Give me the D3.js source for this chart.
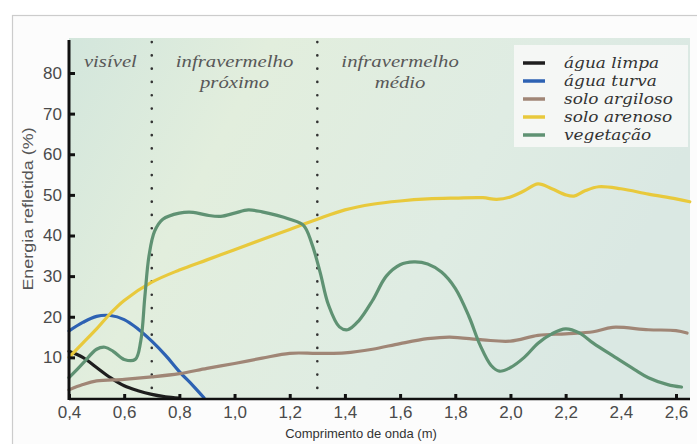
<!DOCTYPE html>
<html><head><meta charset="utf-8">
<script src="https://cdn.jsdelivr.net/npm/d3@7"></script>
<style>html,body{margin:0;padding:0;background:#fff;}svg{display:block;}
.serif{font-family:"Liberation Serif",serif;font-style:italic;}
.serif2{font-family:"DejaVu Serif",serif;font-style:italic;}
.sans{font-family:"Liberation Sans",Arial,Helvetica,sans-serif;}
</style>
</head><body>
<svg id="chart" width="697" height="444"></svg>
<script>
// ---- data ----
const seriesNames = ["água limpa","água turva","solo argiloso","solo arenoso","vegetação"];
const seriesColors = ["#1e1e1e","#2d62b3","#a08676","#e8c93c","#5f9273"];
const aguaLimpa = [[0.4,11.5],[0.45,10],[0.5,7.5],[0.55,5],[0.6,3],[0.65,1.8],[0.7,0.9],[0.75,0.3],[0.8,0]];
const aguaTurva = [[0.4,16.5],[0.45,18.6],[0.5,20.1],[0.55,20.3],[0.6,19.3],[0.65,17],[0.7,14],[0.75,10.5],[0.8,6.5],[0.85,3],[0.89,0]];
const soloArgiloso = [[0.4,2],[0.45,3.3],[0.5,4.2],[0.6,4.6],[0.7,5.2],[0.8,6],[0.9,7.3],[1.0,8.5],[1.1,9.8],[1.2,11],[1.3,11],[1.4,11.1],[1.5,12],[1.6,13.4],[1.7,14.6],[1.78,15],[1.9,14.3],[2.0,14],[2.1,15.4],[2.2,15.8],[2.3,16.3],[2.37,17.4],[2.5,16.8],[2.6,16.6],[2.64,16]];
const soloArenoso = [[0.4,10],[0.45,13.5],[0.5,17],[0.55,20.8],[0.6,24],[0.7,28.5],[0.8,31.5],[0.9,34],[1.0,36.5],[1.1,39],[1.2,41.5],[1.3,44],[1.4,46.3],[1.5,47.7],[1.6,48.5],[1.7,49],[1.8,49.2],[1.9,49.3],[1.95,48.9],[2.0,49.5],[2.05,51],[2.1,52.7],[2.15,51.5],[2.2,50],[2.23,49.7],[2.27,51],[2.32,52],[2.4,51.5],[2.5,50.2],[2.6,49],[2.65,48.3]];
const vegetacao = [[0.4,5],[0.45,8.5],[0.5,12],[0.53,12.5],[0.56,11.5],[0.6,9.5],[0.64,9.5],[0.66,14],[0.675,25],[0.69,35],[0.71,41],[0.74,44],[0.8,45.5],[0.85,45.7],[0.9,45],[0.95,44.7],[1.0,45.5],[1.05,46.3],[1.1,45.8],[1.2,44],[1.25,42.5],[1.28,38],[1.31,31],[1.34,23],[1.38,17.5],[1.41,16.8],[1.45,19],[1.5,24],[1.55,30],[1.6,32.8],[1.65,33.5],[1.7,33],[1.75,31],[1.8,27],[1.85,20],[1.89,13],[1.93,8],[1.96,6.6],[2.0,7.5],[2.05,10],[2.1,13.5],[2.15,15.8],[2.2,17],[2.25,16],[2.3,13.5],[2.38,10],[2.45,7],[2.5,5],[2.57,3.3],[2.62,2.7]];
const xTickValues = [0.4,0.6,0.8,1.0,1.2,1.4,1.6,1.8,2.0,2.2,2.4,2.6];
const xTickLabels = ["0,4","0,6","0,8","1,0","1,2","1,4","1,6","1,8","2,0","2,2","2,4","2,6"];
const yTickValues = [10,20,30,40,50,60,70,80];
const regionBounds = [0.7,1.3];
const regionLabels = [{x:0.55,lines:["visível"]},{x:1.0,lines:["infravermelho","próximo"]},{x:1.6,lines:["infravermelho","médio"]}];
const xTitle = "Comprimento de onda (m)";
const yTitle = "Energia refletida (%)";

const allSeries = [aguaLimpa,aguaTurva,soloArgiloso,soloArenoso,vegetacao];

// ---- layout ----
const svg = d3.select("#chart");
const pL = 69, pR = 690, pT = 38, pB = 398;
const x = d3.scaleLinear().domain([0.4,2.6]).range([pL,676]);
const y = d3.scaleLinear().domain([0,80]).range([pB,73]);

// frame
svg.append("rect").attr("x",12.5).attr("y",15.5).attr("width",700).attr("height",440)
  .attr("fill","#fcfcfc").attr("stroke","#cccccc").attr("stroke-width",1.2);

// plot background gradient
const defs = svg.append("defs");
const g1 = defs.append("linearGradient").attr("id","bg").attr("x1","0").attr("y1","0").attr("x2","1").attr("y2","0.3");
g1.append("stop").attr("offset","0").attr("stop-color","#d3e6dc");
g1.append("stop").attr("offset","0.3").attr("stop-color","#e2eedd");
g1.append("stop").attr("offset","0.7").attr("stop-color","#dfece3");
g1.append("stop").attr("offset","1").attr("stop-color","#dae8e3");
svg.append("rect").attr("x",pL).attr("y",pT).attr("width",pR-pL).attr("height",pB-pT+2)
  .attr("fill","url(#bg)");

// region dotted lines
svg.selectAll(".div").data(regionBounds).join("line")
  .attr("x1",d=>x(d)).attr("x2",d=>x(d)).attr("y1",pT+4).attr("y2",pB-4)
  .attr("stroke","#333").attr("stroke-width",2.6).attr("stroke-linecap","round")
  .attr("stroke-dasharray","0.1,13.2");

// region labels
const rl = svg.selectAll(".rl").data(regionLabels).join("g")
  .attr("transform",d=>`translate(${x(d.x)},67) scale(1.22,1)`);
rl.selectAll("text").data(d=>d.lines).join("text")
  .attr("class","serif").attr("x",0).attr("y",(d,i)=>i*21).attr("text-anchor","middle")
  .attr("font-size",17).attr("fill","#585858").text(d=>d);

// curves
const line = d3.line().x(d=>x(d[0])).y(d=>y(d[1])).curve(d3.curveCatmullRom.alpha(0.5));
svg.selectAll(".series").data(allSeries).join("path")
  .attr("d",line).attr("fill","none")
  .attr("stroke",(d,i)=>seriesColors[i]).attr("stroke-width",3.2)
  .attr("stroke-linejoin","round").attr("stroke-linecap","round");

// axes
const xAxis = d3.axisBottom(x).tickValues(xTickValues).tickFormat((d,i)=>xTickLabels[i]).tickSizeInner(-5).tickSizeOuter(0).tickPadding(7);
const gx = svg.append("g").attr("transform",`translate(0,${pB+1})`).call(xAxis);
gx.select(".domain").attr("d",`M${pL},0H${pR}`).attr("stroke","#111").attr("stroke-width",2.5);
gx.selectAll(".tick line").attr("stroke","#111").attr("stroke-width",3);
gx.selectAll(".tick text").attr("class","sans").attr("font-size",17).attr("fill","#4a4a4a");

const yAxis = d3.axisLeft(y).tickValues(yTickValues).tickSizeInner(-6).tickSizeOuter(0).tickPadding(7);
const gy = svg.append("g").attr("transform",`translate(${pL},0)`).call(yAxis);
gy.select(".domain").attr("d",`M0,${pT+2}V${pB+2}`).attr("stroke","#111").attr("stroke-width",3);
gy.selectAll(".tick line").attr("stroke","#111").attr("stroke-width",3);
gy.selectAll(".tick text").attr("class","sans").attr("font-size",17).attr("fill","#4a4a4a");

// axis titles
svg.append("text").attr("class","sans").attr("x",361).attr("y",438).attr("text-anchor","middle")
  .attr("font-size",13).attr("fill","#333").text(xTitle);
svg.append("text").attr("class","sans").attr("transform","translate(33,209) rotate(-90) scale(1.28,1)").attr("text-anchor","middle")
  .attr("font-size",14).attr("fill","#555").text(yTitle);

// legend
const lg = svg.append("g");
lg.append("rect").attr("x",514).attr("y",45).attr("width",174).attr("height",102).attr("fill","#f5f8f5").attr("opacity",0.95);
const items = lg.selectAll(".li").data(seriesNames).join("g")
  .attr("transform",(d,i)=>`translate(0,${63+i*18})`);
items.append("line").attr("x1",523).attr("x2",545).attr("y1",0).attr("y2",0)
  .attr("stroke",(d,i)=>seriesColors[i]).attr("stroke-width",3.5);
items.append("text").attr("class","serif2").attr("transform","translate(564,5) scale(1.13,1)").text(d=>d)
  .attr("font-size",15).attr("fill","#333");
</script>
</body></html>
